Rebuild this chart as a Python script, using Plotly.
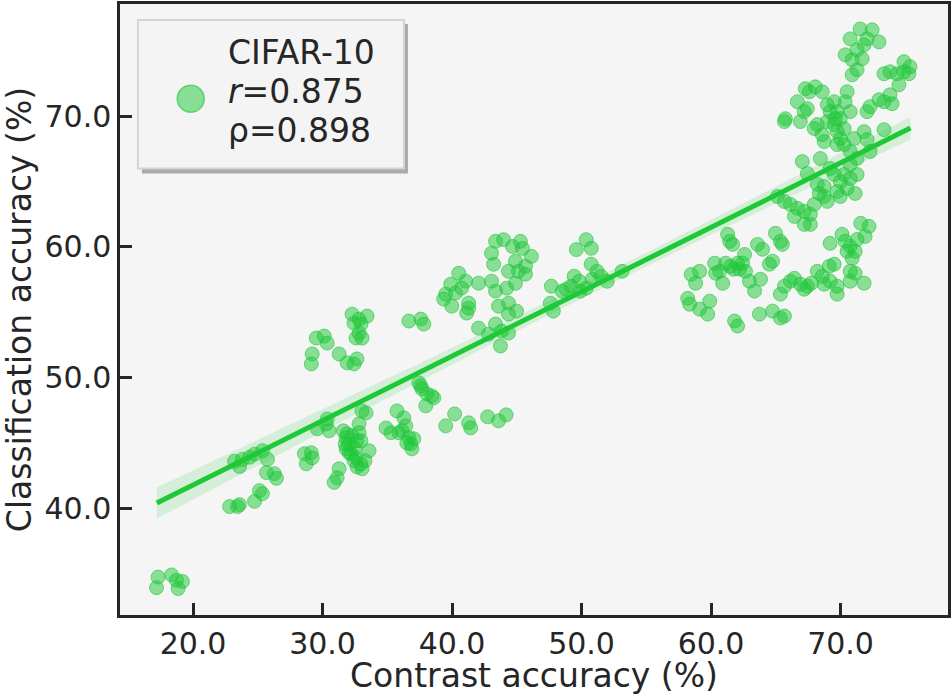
import numpy as np
import plotly.graph_objects as go

# contrast accuracy (x) / classification accuracy (y)
c1_x = [17.3, 18.34, 18.72, 19.18, 17.18, 18.85]
c1_y = [34.73, 34.9, 34.48, 34.4, 33.92, 33.85]

c2_x = [22.83, 23.59, 23.44, 24.75, 25.13, 25.36, 25.67, 26.28, 26.44, 23.21, 23.82, 23.59, 24.36, 24.75, 25.36, 25.75]
c2_y = [40.13, 40.28, 40.13, 40.53, 41.35, 41.12, 42.73, 42.65, 42.3, 43.6, 43.74, 43.2, 43.9, 44.14, 44.4, 43.74]

c3_x = [28.6, 29.13, 28.74, 29.2, 31.28, 30.9, 31.13, 29.6, 30.28, 30.51, 30.36]
c3_y = [44.18, 44.25, 43.4, 43.86, 43.02, 41.98, 42.33, 46.08, 46.45, 45.93, 46.84]

c4_x = [31.82, 32.05, 31.82, 32.2, 32.43, 33.05, 32.97, 33.59, 32.82, 32.82, 33.36, 33.05,
        32.66, 32.59, 31.9, 32.28, 31.75, 32.51, 32.05, 32.97, 33.28, 31.6, 32.66]
c4_y = [45.38, 44.92, 44.55, 44.17, 43.64, 43.02, 43.4, 44.4, 45.78, 46.46, 47.3, 47.45,
        45.17, 43.87, 45.69, 45.55, 44.92, 44.55, 44.25, 45.17, 43.64, 45.93, 43.17]

c5_x = [34.9, 35.28, 35.75, 36.28, 36.43, 36.13, 35.9, 36.67, 37.05, 36.82, 36.9, 36.51]
c5_y = [46.15, 45.78, 47.45, 46.92, 46.31, 45.93, 45.78, 45.4, 45.32, 44.94, 44.55, 45.0]

c6_x = [37.44, 37.67, 38.05, 38.44, 38.59, 37.97, 37.59]
c6_y = [49.6, 49.14, 48.76, 48.6, 48.45, 47.84, 49.37]

c7_x = [39.51, 40.2, 41.28, 41.44, 42.75, 43.59, 44.18]
c7_y = [46.31, 47.22, 46.54, 46.15, 47.0, 46.69, 47.15]

c8_x = [29.52, 30.13, 30.36, 29.2, 29.13, 31.28, 31.9, 32.43, 32.66, 32.28, 32.82, 33.44,
        32.59, 33.05, 32.82, 32.43, 32.97]
c8_y = [53.03, 53.18, 52.65, 51.81, 51.05, 51.81, 51.13, 51.05, 51.43, 54.86, 54.48, 54.71,
        53.03, 53.03, 53.41, 54.17, 54.1]

c9_x = [36.67, 37.59, 37.82]
c9_y = [54.33, 54.48, 54.1]

c10_x = [40.52, 39.9, 39.51, 39.36, 39.98, 41.28, 41.13, 41.28, 42.05, 41.05, 40.28, 40.74]
c10_y = [57.99, 57.15, 56.39, 56.01, 55.47, 55.7, 54.94, 55.32, 57.23, 57.38, 56.47, 56.85]

c11_x = [43.36, 43.98, 45.28, 46.13, 43.05, 43.21, 44.9, 45.13, 45.67, 44.36, 44.9, 43.05,
         43.36, 44.21, 43.59, 44.36, 44.98, 44.36, 42.05, 43.36, 43.82, 43.74, 42.82, 44.36,
         45.67, 45.44, 44.67]
c11_y = [60.43, 60.56, 60.43, 59.28, 59.52, 58.68, 58.91, 58.14, 57.92, 58.14, 57.22, 57.38,
         56.62, 56.85, 55.47, 55.7, 55.09, 54.86, 53.79, 54.1, 53.56, 52.42, 53.33, 53.41,
         58.52, 59.89, 60.04]

c12_x = [47.67, 47.82, 47.59, 48.51, 49.43, 49.82, 50.36, 49.6, 50.36, 50.75, 50.75, 51.51,
         51.98, 53.13, 49.2, 50.82, 49.9, 48.82, 51.2]
c12_y = [57.0, 55.09, 55.7, 56.62, 57.76, 57.38, 56.85, 59.8, 60.56, 59.9, 58.68, 57.76,
         57.38, 58.14, 57.0, 57.53, 56.62, 56.77, 58.14]

c13_x = [58.47, 59.12, 58.81, 58.2, 58.35, 59.12, 59.74, 59.9, 60.28, 60.67, 60.9, 60.36,
         61.28, 61.44, 61.67, 61.51, 62.05, 62.59, 62.66, 62.97, 63.36, 63.82, 63.59, 63.98,
         61.82, 62.05, 64.51, 64.75, 64.98, 65.36, 65.51, 63.74, 64.75, 65.36, 65.67,
         61.13, 61.75, 62.2, 62.43]
c13_y = [57.9, 58.14, 57.22, 56.07, 55.62, 55.24, 54.86, 55.85, 58.76, 58.14, 57.22, 57.99,
         60.97, 60.43, 60.2, 58.52, 58.76, 59.43, 58.14, 57.38, 56.62, 57.53, 60.2, 59.82,
         54.33, 53.95, 58.68, 58.91, 61.05, 60.43, 60.2, 54.86, 55.09, 54.56, 54.71,
         58.76, 58.3, 58.3, 58.76]

c14_x = [65.67, 66.13, 66.44, 66.9, 67.44, 67.2, 65.36, 68.21, 68.59, 69.13, 69.51, 69.74,
         69.74, 69.2, 70.75, 71.13, 70.75, 71.82, 68.74, 67.75]
c14_y = [57.0, 57.38, 57.6, 57.15, 57.0, 56.77, 56.39, 58.14, 57.76, 58.52, 58.68, 57.0,
         56.39, 57.38, 58.14, 57.99, 57.38, 57.23, 57.15, 57.23]

c15_x = [71.56, 72.2, 69.2, 70.12, 70.36, 70.75, 71.13, 70.51, 71.28, 71.9, 70.9]
c15_y = [61.81, 61.58, 60.28, 60.97, 60.43, 60.05, 59.67, 59.67, 60.58, 60.81, 59.13]

c16_x = [65.13, 65.67, 66.13, 66.67, 67.2, 67.67, 66.44, 67.2, 67.67, 67.97, 68.36, 68.74,
         68.21, 68.98, 69.74, 69.98, 70.28, 70.75, 71.28, 70.51, 71.13, 69.98, 68.74, 69.51,
         67.05, 67.44, 68.44, 69.2]
c16_y = [63.86, 63.48, 63.26, 62.96, 62.73, 62.5, 62.34, 61.73, 61.73, 63.26, 64.1, 63.87,
         64.79, 63.49, 64.25, 65.01, 65.55, 65.24, 65.55, 64.48, 64.1, 63.87, 64.63, 65.55,
         66.54, 65.63, 66.77, 66.01]

c17_x = [65.74, 65.67, 66.67, 67.28, 67.59, 68.05, 68.59, 67.2, 66.9, 67.44, 68.21, 67.97,
         68.59, 68.74, 68.98, 69.2, 69.51, 69.74, 69.98, 70.28, 70.51, 70.75, 70.36, 69.98,
         70.28, 69.74, 71.05, 70.75, 71.82, 72.05, 72.28, 71.28, 70.75, 73.36, 68.98, 69.51,
         69.74, 69.59]
c17_y = [69.82, 69.6, 71.12, 72.11, 71.88, 72.26, 71.88, 70.36, 69.6, 70.59, 69.37, 69.07,
         68.6, 68.07, 70.89, 70.36, 71.12, 70.36, 69.82, 69.06, 71.88, 70.36, 71.12, 68.3,
         67.84, 67.84, 68.3, 67.31, 68.83, 68.22, 67.31, 66.77, 66.31, 68.98, 69.6, 69.37,
         68.83, 69.82]

c18_x = [72.05, 72.28, 72.97, 73.36, 73.82, 73.98, 73.36, 73.82, 74.36, 74.9, 75.36, 74.9,
         74.51, 75.28]
c18_y = [70.36, 70.74, 71.27, 71.12, 71.65, 70.97, 73.26, 73.41, 73.26, 74.18, 73.8, 73.41,
         72.42, 73.26]

c19_x = [71.52, 72.44, 70.75, 72.05, 72.97, 71.82, 71.28, 70.36, 70.9, 71.67, 71.28, 70.9]
c19_y = [76.69, 76.62, 75.93, 75.93, 75.7, 75.47, 75.09, 74.71, 74.33, 74.41, 73.56, 73.18]

# regression line ends
fit_x = [17.2, 75.4]
fit_y = [40.4, 69.1]

legend_lines = ["CIFAR-10", "<i>r</i>=0.875", "ρ=0.898"]
x_ticks = [20, 30, 40, 50, 60, 70]
y_ticks = [40, 50, 60, 70]

xs = np.array(c1_x + c2_x + c3_x + c4_x + c5_x + c6_x + c7_x + c8_x + c9_x + c10_x
              + c11_x + c12_x + c13_x + c14_x + c15_x + c16_x + c17_x + c18_x + c19_x)
ys = np.array(c1_y + c2_y + c3_y + c4_y + c5_y + c6_y + c7_y + c8_y + c9_y + c10_y
              + c11_y + c12_y + c13_y + c14_y + c15_y + c16_y + c17_y + c18_y + c19_y)

GREEN = "rgb(30,200,55)"
INK = "#262626"

# 95% confidence band around the line
slope = (fit_y[1] - fit_y[0]) / (fit_x[1] - fit_x[0])
icpt = fit_y[0] - slope * fit_x[0]
n = len(xs)
gx = np.linspace(fit_x[0], fit_x[1], 100)
gy = slope * gx + icpt
resid = ys - (slope * xs + icpt)
s = np.sqrt((resid ** 2).sum() / (n - 2))
se = s * np.sqrt(1 / n + (gx - xs.mean()) ** 2 / ((xs - xs.mean()) ** 2).sum())
band = 1.97 * se

fig = go.Figure()
fig.add_trace(go.Scatter(
    x=np.concatenate([gx, gx[::-1]]), y=np.concatenate([gy + band, (gy - band)[::-1]]),
    fill="toself", fillcolor="rgba(30,200,55,0.15)", line=dict(width=0),
    hoverinfo="skip", showlegend=False))
fig.add_trace(go.Scatter(
    x=xs, y=ys, mode="markers", showlegend=False,
    marker=dict(size=14, color="rgba(30,200,55,0.5)", line=dict(color="rgba(30,200,55,0.6)", width=1))))
fig.add_trace(go.Scatter(x=gx, y=gy, mode="lines", line=dict(color=GREEN, width=5), showlegend=False))

W, H = 952, 695
L, R, T, B = 120, 951, 2, 615


def px(x):
    return (x - L) / (R - L)


def py(y):
    return (B - y) / (B - T)


# legend drawn by hand: shadow, box, marker, three lines of text
shapes = [
    dict(type="rect", xref="paper", yref="paper", x0=px(142), x1=px(409), y0=py(172), y1=py(22),
         fillcolor="rgba(120,120,120,0.6)", line=dict(width=0), layer="above"),
    dict(type="rect", xref="paper", yref="paper", x0=px(138), x1=px(405), y0=py(167), y1=py(18),
         fillcolor="#f4f4f4", line=dict(color="#d4d4d4", width=2), layer="above"),
    dict(type="circle", xref="paper", yref="paper", xsizemode="pixel", ysizemode="pixel",
         xanchor=px(191), yanchor=py(97), x0=-13.5, x1=13.5, y0=-13.5, y1=13.5,
         fillcolor="rgba(30,200,55,0.5)", line=dict(color="rgba(30,200,55,0.6)", width=1.5),
         layer="above"),
]
annotations = []
for i, txt in enumerate(legend_lines):
    annotations.append(dict(
        xref="paper", yref="paper", x=px(226), y=py(51 + 39 * i), xanchor="left", yanchor="middle",
        text=txt, showarrow=False, font=dict(size=33, color=INK)))

fig.update_layout(
    width=W, height=H,
    margin=dict(l=L, r=W - R, t=T, b=H - B),
    paper_bgcolor="white", plot_bgcolor="#f5f5f5",
    font=dict(family="DejaVu Sans", color=INK),
    shapes=shapes, annotations=annotations,
    xaxis=dict(
        range=[14.36, 78.3], tickvals=x_ticks, ticktext=["%.1f" % v for v in x_ticks],
        ticks="inside", ticklen=12, tickwidth=2.5, tickcolor=INK,
        showline=True, linewidth=2.5, linecolor=INK, mirror=True,
        showgrid=False, zeroline=False, tickfont=dict(size=30),
        title=dict(text="Contrast accuracy (%)", font=dict(size=33), standoff=2)),
    yaxis=dict(
        range=[31.83, 78.6], tickvals=y_ticks, ticktext=["%.1f" % v for v in y_ticks],
        ticks="inside", ticklen=12, tickwidth=2.5, tickcolor=INK,
        showline=True, linewidth=2.5, linecolor=INK, mirror=True,
        showgrid=False, zeroline=False, tickfont=dict(size=30),
        title=dict(text="Classification accuracy (%)", font=dict(size=33), standoff=8)),
)

fig.write_html("out.html", config={"displayModeBar": False},
               post_script="document.body.style.margin='0';document.body.style.overflow='hidden';")
